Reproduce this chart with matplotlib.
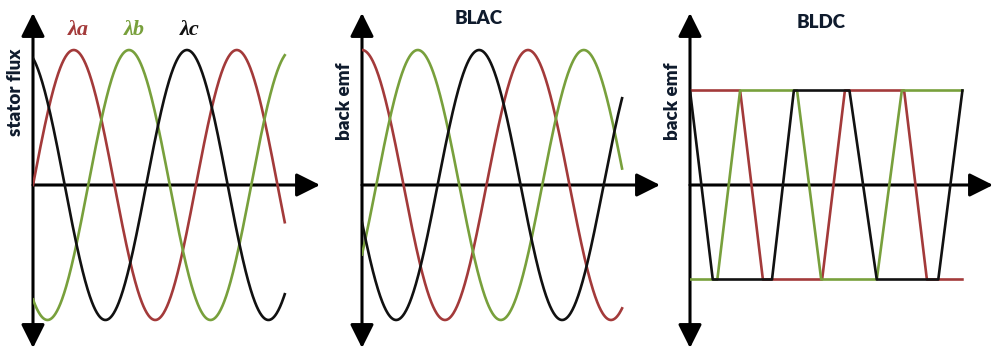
import numpy as np
import matplotlib
matplotlib.use("Agg")
import matplotlib.pyplot as plt

# ===========================
# Data
# ===========================

PHASES = ["a", "b", "c"]
PHASE_COLORS = ["#a33a3a", "#78a03c", "#111111"]

# stator flux: angle (deg) where each phase peaks
FLUX_PEAKS = [90, 212, 340]
FLUX_END = 556

# BLAC back emf: angle (deg) where each phase peaks
BLAC_PEAKS = [0, 121, 254]
BLAC_END = 564

# BLDC back emf: trapezoid corners (angle in deg, level)
BLDC_ANGLES = [
    [0, 110, 160, 290, 340, 470, 520, 598],
    [0, 60, 110, 235, 288, 410, 465, 598],
    [0, 50, 180, 228, 350, 410, 545, 598],
]
BLDC_LEVELS = [
    [1, 1, -1, -1, 1, 1, -1, -1],
    [-1, -1, 1, 1, -1, -1, 1, 1],
    [1, -1, -1, 1, 1, -1, -1, 1],
]

TITLES = ["", "BLAC", "BLDC"]
YLABELS = ["stator flux", "back emf", "back emf"]

# ===========================
# Layout (pixels)
# ===========================

W, H = 994, 350
AXIS_Y = 185            # height of the time axis
PANEL_X = [33, 362, 690]        # vertical axis position
PANEL_TIP = [320, 660, 993]     # horizontal arrow tip
DEG_PX = [163 / 360, 166 / 360, 164 / 360]
UNIT_PX = [135, 135, 94.5]      # pixels per unit amplitude

TEXT_COLOR = "#0f1b2d"
FONT = ["Lato", "DejaVu Sans"]
LW = 1.9

fig = plt.figure(figsize=(W / 100, H / 100), dpi=100)


def make_axes(i):
    left = PANEL_X[i] / W
    width = (PANEL_TIP[i] - PANEL_X[i]) / W
    ax = fig.add_axes([left, 0, width, 1])
    ax.set_xlim(0, (PANEL_TIP[i] - PANEL_X[i]) / DEG_PX[i])
    ax.set_ylim(-(H - AXIS_Y) / UNIT_PX[i], AXIS_Y / UNIT_PX[i])
    ax.axis("off")

    # arrow axes
    ay = 1 - AXIS_Y / H
    head = "head_length=0.72,head_width=0.36"
    ax.annotate("", xy=(1, ay), xytext=(0, ay), xycoords="axes fraction",
                arrowprops=dict(arrowstyle="-|>," + head, lw=2.2, color="black",
                                mutation_scale=20, shrinkA=0, shrinkB=0),
                annotation_clip=False)
    ax.annotate("", xy=(0, 1 - 13 / H), xytext=(0, 1 - 348 / H),
                xycoords="axes fraction",
                arrowprops=dict(arrowstyle="<|-|>," + head, lw=2.2, color="black",
                                mutation_scale=20, shrinkA=0, shrinkB=0),
                annotation_clip=False)
    return ax


axes = [make_axes(i) for i in range(3)]

# ===========================
# Stator flux
# ===========================

theta = np.linspace(0, FLUX_END, 600)
for peak, color in zip(FLUX_PEAKS, PHASE_COLORS):
    axes[0].plot(theta, np.cos(np.radians(theta - peak)), color=color, lw=LW,
                 zorder=3)

# ===========================
# BLAC back emf
# ===========================

theta = np.linspace(0, BLAC_END, 600)
for peak, color in zip(BLAC_PEAKS, PHASE_COLORS):
    axes[1].plot(theta, np.cos(np.radians(theta - peak)), color=color, lw=LW,
                 zorder=3)

# ===========================
# BLDC back emf
# ===========================

for ang, lev, color in zip(BLDC_ANGLES, BLDC_LEVELS, PHASE_COLORS):
    axes[2].plot(ang, lev, color=color, lw=LW, zorder=3)

# ===========================
# Labels
# ===========================

label_x = [16, 344, 672]
label_y = [92, 101, 101]
for i in range(3):
    fig.text(label_x[i] / W, 1 - label_y[i] / H, YLABELS[i], rotation=90,
             ha="center", va="center", fontsize=13.5, fontweight="heavy",
             color=TEXT_COLOR, family=FONT)

fig.text(479 / W, 1 - 18 / H, TITLES[1], ha="center", va="center",
         fontsize=13.5, fontweight="heavy", color=TEXT_COLOR, family=FONT)
fig.text(821 / W, 1 - 22 / H, TITLES[2], ha="center", va="center",
         fontsize=13.5, fontweight="heavy", color=TEXT_COLOR, family=FONT)

lambda_x = [78, 134, 190]
for name, color, x in zip(PHASES, PHASE_COLORS, lambda_x):
    fig.text(x / W, 1 - 30 / H, "λ" + name, ha="center", va="center",
             fontsize=16, fontweight="bold", fontstyle="italic",
             color=color, family=["Liberation Serif", "DejaVu Serif"])

plt.savefig("out.png", dpi=100)
